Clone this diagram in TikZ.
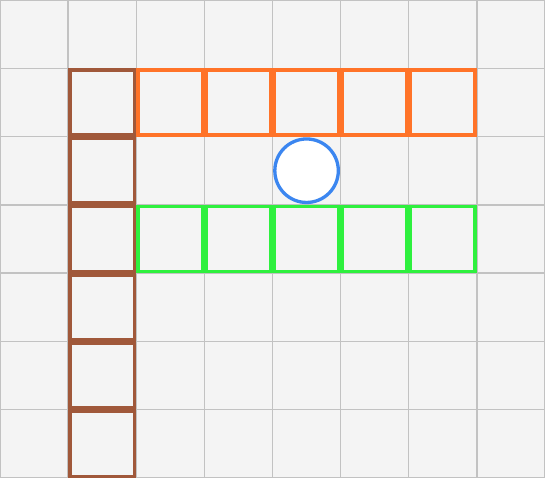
\documentclass[tikz,border=0pt]{standalone}
\definecolor{bgc}{HTML}{F4F4F4}
\definecolor{gridc}{HTML}{C2C2C2}
\definecolor{brownc}{HTML}{A0583A}
\definecolor{orangec}{HTML}{FF7328}
\definecolor{greenc}{HTML}{2EF03E}
\definecolor{bluec}{HTML}{3B86F0}
\tikzset{
  gridcell/.style={draw=gridc, line width=1.3pt},
  wallcell/.style={draw=brownc, line width=3.4pt},
  topcell/.style={draw=orangec, line width=3.4pt},
  lowcell/.style={draw=greenc, line width=3.4pt},
  ball/.style={circle, draw=bluec, fill=white, line width=3.3pt, minimum size=63.5pt, inner sep=0pt},
}
\begin{document}
\begin{tikzpicture}[x=68.125pt, y=-68.2857pt]
\useasboundingbox (0,0) rectangle (8,7);
\fill[bgc] (0,0) rectangle (8,7);
% grid
\foreach \i in {0,...,7}{
  \foreach \j in {0,...,6}{
    \draw[gridcell] (\i,\j) rectangle ++(1,1);
  }
}
% brown column
\foreach \j in {1,...,6}{
  \draw[wallcell] ([xshift=1.7pt,yshift=-1.7pt]1,\j) rectangle ([xshift=-1.7pt,yshift=1.7pt]2,\j+1);
}
% orange row
\foreach \i in {2,...,6}{
  \draw[topcell] ([xshift=1.7pt,yshift=-1.7pt]\i,1) rectangle ([xshift=-1.7pt,yshift=1.7pt]\i+1,2);
}
% green row
\foreach \i in {2,...,6}{
  \draw[lowcell] ([xshift=1.7pt,yshift=-1.7pt]\i,3) rectangle ([xshift=-1.7pt,yshift=1.7pt]\i+1,4);
}
% ball
\node[ball] (b) at (4.5,2.5) {};
\end{tikzpicture}
\end{document}
